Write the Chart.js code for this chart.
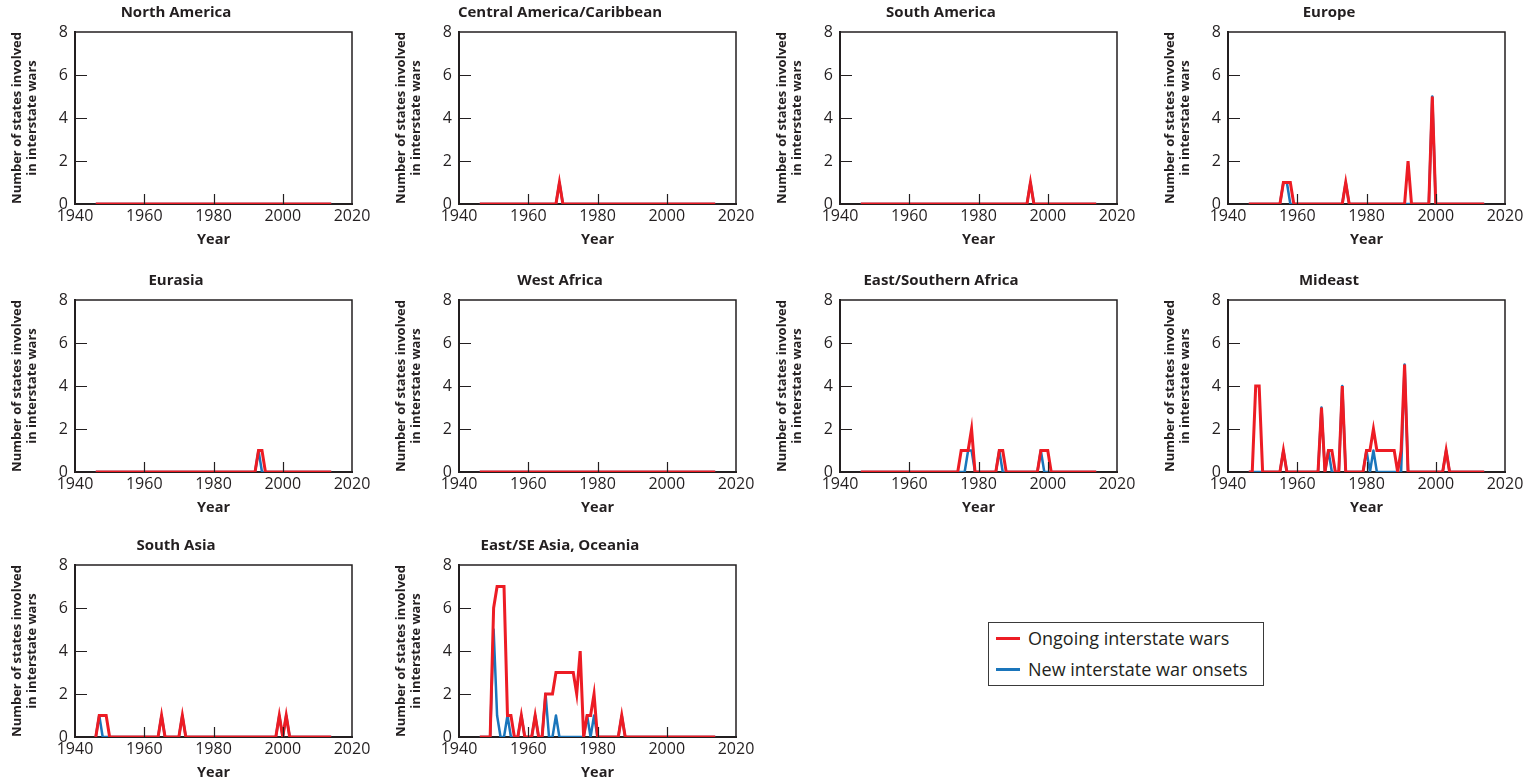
<!DOCTYPE html>
<html>
<head>
<meta charset="utf-8">
<script src="https://cdn.jsdelivr.net/npm/chart.js@4.4.1/dist/chart.umd.min.js"></script>
<style>
  html, body { margin: 0; padding: 0; background: #fff; overflow: hidden; }
  body { width: 1528px; height: 782px; position: relative; font-family: 'Open Sans', sans-serif; }
  .panel { position: absolute; }
  .legend-box {
    position: absolute; left: 988px; top: 622px; width: 274px; height: 62px;
    border: 1px solid #3a3a3a; background: #fff;
  }
  .legend-row { position: absolute; left: 0; height: 20px; display: flex; align-items: center; }
  .legend-row .swatch { display: inline-block; width: 24px; height: 3px; margin-left: 7px; margin-right: 8px; }
  .legend-row span.txt { font-size: 18px; color: #231f20; white-space: nowrap; }
</style>
</head>
<body>
<div id="charts"></div>
<div class="legend-box">
  <div class="legend-row" style="top:5px"><span class="swatch" style="background:#ed1c24"></span><span class="txt">Ongoing interstate wars</span></div>
  <div class="legend-row" style="top:36px"><span class="swatch" style="background:#1a75bb"></span><span class="txt">New interstate war onsets</span></div>
</div>
<script>
// years 1946 - 2014
const years = [
  1946, 1947, 1948, 1949,
  1950, 1951, 1952, 1953, 1954, 1955, 1956, 1957, 1958, 1959,
  1960, 1961, 1962, 1963, 1964, 1965, 1966, 1967, 1968, 1969,
  1970, 1971, 1972, 1973, 1974, 1975, 1976, 1977, 1978, 1979,
  1980, 1981, 1982, 1983, 1984, 1985, 1986, 1987, 1988, 1989,
  1990, 1991, 1992, 1993, 1994, 1995, 1996, 1997, 1998, 1999,
  2000, 2001, 2002, 2003, 2004, 2005, 2006, 2007, 2008, 2009,
  2010, 2011, 2012, 2013, 2014,
];

// rows: 46-49 | 50s | 60s | 70s | 80s | 90s | 00s | 10-14
const northAmericaOngoing = [0,0,0,0, 0,0,0,0,0,0,0,0,0,0, 0,0,0,0,0,0,0,0,0,0, 0,0,0,0,0,0,0,0,0,0, 0,0,0,0,0,0,0,0,0,0, 0,0,0,0,0,0,0,0,0,0, 0,0,0,0,0,0,0,0,0,0, 0,0,0,0,0];
const northAmericaOnsets  = [0,0,0,0, 0,0,0,0,0,0,0,0,0,0, 0,0,0,0,0,0,0,0,0,0, 0,0,0,0,0,0,0,0,0,0, 0,0,0,0,0,0,0,0,0,0, 0,0,0,0,0,0,0,0,0,0, 0,0,0,0,0,0,0,0,0,0, 0,0,0,0,0];

const centralAmOngoing = [0,0,0,0, 0,0,0,0,0,0,0,0,0,0, 0,0,0,0,0,0,0,0,0,1, 0,0,0,0,0,0,0,0,0,0, 0,0,0,0,0,0,0,0,0,0, 0,0,0,0,0,0,0,0,0,0, 0,0,0,0,0,0,0,0,0,0, 0,0,0,0,0];
const centralAmOnsets  = [0,0,0,0, 0,0,0,0,0,0,0,0,0,0, 0,0,0,0,0,0,0,0,0,1, 0,0,0,0,0,0,0,0,0,0, 0,0,0,0,0,0,0,0,0,0, 0,0,0,0,0,0,0,0,0,0, 0,0,0,0,0,0,0,0,0,0, 0,0,0,0,0];

const southAmOngoing = [0,0,0,0, 0,0,0,0,0,0,0,0,0,0, 0,0,0,0,0,0,0,0,0,0, 0,0,0,0,0,0,0,0,0,0, 0,0,0,0,0,0,0,0,0,0, 0,0,0,0,0,1,0,0,0,0, 0,0,0,0,0,0,0,0,0,0, 0,0,0,0,0];
const southAmOnsets  = [0,0,0,0, 0,0,0,0,0,0,0,0,0,0, 0,0,0,0,0,0,0,0,0,0, 0,0,0,0,0,0,0,0,0,0, 0,0,0,0,0,0,0,0,0,0, 0,0,0,0,0,1,0,0,0,0, 0,0,0,0,0,0,0,0,0,0, 0,0,0,0,0];

const europeOngoing = [0,0,0,0, 0,0,0,0,0,0,1,1,1,0, 0,0,0,0,0,0,0,0,0,0, 0,0,0,0,1,0,0,0,0,0, 0,0,0,0,0,0,0,0,0,0, 0,0,2,0,0,0,0,0,0,5, 0,0,0,0,0,0,0,0,0,0, 0,0,0,0,0];
const europeOnsets  = [0,0,0,0, 0,0,0,0,0,0,1,1,0,0, 0,0,0,0,0,0,0,0,0,0, 0,0,0,0,1,0,0,0,0,0, 0,0,0,0,0,0,0,0,0,0, 0,0,0,0,0,0,0,0,0,5, 0,0,0,0,0,0,0,0,0,0, 0,0,0,0,0];

const eurasiaOngoing = [0,0,0,0, 0,0,0,0,0,0,0,0,0,0, 0,0,0,0,0,0,0,0,0,0, 0,0,0,0,0,0,0,0,0,0, 0,0,0,0,0,0,0,0,0,0, 0,0,0,1,1,0,0,0,0,0, 0,0,0,0,0,0,0,0,0,0, 0,0,0,0,0];
const eurasiaOnsets  = [0,0,0,0, 0,0,0,0,0,0,0,0,0,0, 0,0,0,0,0,0,0,0,0,0, 0,0,0,0,0,0,0,0,0,0, 0,0,0,0,0,0,0,0,0,0, 0,0,0,1,0,0,0,0,0,0, 0,0,0,0,0,0,0,0,0,0, 0,0,0,0,0];

const westAfricaOngoing = [0,0,0,0, 0,0,0,0,0,0,0,0,0,0, 0,0,0,0,0,0,0,0,0,0, 0,0,0,0,0,0,0,0,0,0, 0,0,0,0,0,0,0,0,0,0, 0,0,0,0,0,0,0,0,0,0, 0,0,0,0,0,0,0,0,0,0, 0,0,0,0,0];
const westAfricaOnsets  = [0,0,0,0, 0,0,0,0,0,0,0,0,0,0, 0,0,0,0,0,0,0,0,0,0, 0,0,0,0,0,0,0,0,0,0, 0,0,0,0,0,0,0,0,0,0, 0,0,0,0,0,0,0,0,0,0, 0,0,0,0,0,0,0,0,0,0, 0,0,0,0,0];

const eastSouthAfricaOngoing = [0,0,0,0, 0,0,0,0,0,0,0,0,0,0, 0,0,0,0,0,0,0,0,0,0, 0,0,0,0,0,1,1,1,2,0, 0,0,0,0,0,0,1,1,0,0, 0,0,0,0,0,0,0,0,1,1, 1,0,0,0,0,0,0,0,0,0, 0,0,0,0,0];
const eastSouthAfricaOnsets  = [0,0,0,0, 0,0,0,0,0,0,0,0,0,0, 0,0,0,0,0,0,0,0,0,0, 0,0,0,0,0,0,0,1,1,0, 0,0,0,0,0,0,1,0,0,0, 0,0,0,0,0,0,0,0,1,0, 0,0,0,0,0,0,0,0,0,0, 0,0,0,0,0];

const mideastOngoing = [0,0,4,4, 0,0,0,0,0,0,1,0,0,0, 0,0,0,0,0,0,0,3,0,1, 1,0,0,4,0,0,0,0,0,0, 1,1,2,1,1,1,1,1,1,0, 1,5,0,0,0,0,0,0,0,0, 0,0,0,1,0,0,0,0,0,0, 0,0,0,0,0];
const mideastOnsets  = [0,0,0,0, 0,0,0,0,0,0,1,0,0,0, 0,0,0,0,0,0,0,3,0,1, 0,0,0,4,0,0,0,0,0,0, 1,0,1,0,0,0,0,0,0,0, 0,5,0,0,0,0,0,0,0,0, 0,0,0,1,0,0,0,0,0,0, 0,0,0,0,0];

const southAsiaOngoing = [0,1,1,1, 0,0,0,0,0,0,0,0,0,0, 0,0,0,0,0,1,0,0,0,0, 0,1,0,0,0,0,0,0,0,0, 0,0,0,0,0,0,0,0,0,0, 0,0,0,0,0,0,0,0,0,1, 0,1,0,0,0,0,0,0,0,0, 0,0,0,0,0];
const southAsiaOnsets  = [0,1,0,0, 0,0,0,0,0,0,0,0,0,0, 0,0,0,0,0,1,0,0,0,0, 0,1,0,0,0,0,0,0,0,0, 0,0,0,0,0,0,0,0,0,0, 0,0,0,0,0,0,0,0,0,1, 0,1,0,0,0,0,0,0,0,0, 0,0,0,0,0];

const eastAsiaOngoing = [0,0,0,0, 6,7,7,7,1,1,0,0,1,0, 0,0,1,0,0,2,2,2,3,3, 3,3,3,3,2,4,0,1,1,2, 0,0,0,0,0,0,0,1,0,0, 0,0,0,0,0,0,0,0,0,0, 0,0,0,0,0,0,0,0,0,0, 0,0,0,0,0];
const eastAsiaOnsets  = [0,0,0,0, 5,1,0,0,1,0,0,0,1,0, 0,0,1,0,0,2,0,0,1,0, 0,0,0,0,0,0,0,1,0,1, 0,0,0,0,0,0,0,1,0,0, 0,0,0,0,0,0,0,0,0,0, 0,0,0,0,0,0,0,0,0,0, 0,0,0,0,0];

const yTickValues = [0, 2, 4, 6, 8];
const xTickValues = [1940, 1960, 1980, 2000, 2020];

const panels = [
  { title: "North America", ongoing: northAmericaOngoing, onsets: northAmericaOnsets },
  { title: "Central America/Caribbean", ongoing: centralAmOngoing, onsets: centralAmOnsets },
  { title: "South America", ongoing: southAmOngoing, onsets: southAmOnsets },
  { title: "Europe", ongoing: europeOngoing, onsets: europeOnsets },
  { title: "Eurasia", ongoing: eurasiaOngoing, onsets: eurasiaOnsets },
  { title: "West Africa", ongoing: westAfricaOngoing, onsets: westAfricaOnsets },
  { title: "East/Southern Africa", ongoing: eastSouthAfricaOngoing, onsets: eastSouthAfricaOnsets },
  { title: "Mideast", ongoing: mideastOngoing, onsets: mideastOnsets },
  { title: "South Asia", ongoing: southAsiaOngoing, onsets: southAsiaOnsets },
  { title: "East/SE Asia, Oceania", ongoing: eastAsiaOngoing, onsets: eastAsiaOnsets },
];

const RED = "#ed1c24";
const BLUE = "#1a75bb";
const INK = "#231f20";
const colLeft = [0, 384, 765, 1153];
const rowTop = [0, 268, 533];
const W = 375, H = 249;

Chart.defaults.font.family = "'Open Sans', sans-serif";
Chart.defaults.color = INK;

// top/right frame plus the short inward tick marks
const frameTicks = {
  id: "frameTicks",
  afterDraw(chart) {
    const { ctx, chartArea: a, scales: { x, y } } = chart;
    ctx.save();
    ctx.strokeStyle = INK;
    ctx.lineWidth = 1.5;
    ctx.beginPath();
    ctx.moveTo(a.left, a.top);
    ctx.lineTo(a.right, a.top);
    ctx.lineTo(a.right, a.bottom);
    ctx.stroke();

    ctx.lineWidth = 1.2;
    ctx.beginPath();
    y.ticks.forEach((t) => {
      if (t.value === y.min || t.value === y.max) return;
      const py = Math.round(y.getPixelForValue(t.value)) + 0.5;
      ctx.moveTo(a.left, py);
      ctx.lineTo(a.left + 12, py);
    });
    x.ticks.forEach((t) => {
      if (t.value === x.min || t.value === x.max) return;
      const px = Math.round(x.getPixelForValue(t.value)) + 0.5;
      ctx.moveTo(px, a.bottom);
      ctx.lineTo(px, a.bottom - 10);
    });
    ctx.stroke();
    ctx.restore();
  },
};

const holder = document.getElementById("charts");

panels.forEach((p, i) => {
  const div = document.createElement("div");
  div.className = "panel";
  div.style.left = colLeft[i % 4] + "px";
  div.style.top = rowTop[Math.floor(i / 4)] + "px";
  div.style.width = W + "px";
  div.style.height = H + "px";
  const canvas = document.createElement("canvas");
  canvas.width = W;
  canvas.height = H;
  div.appendChild(canvas);
  holder.appendChild(div);

  new Chart(canvas.getContext("2d"), {
    type: "line",
    data: {
      datasets: [
        {
          label: "Ongoing interstate wars",
          data: years.map((yr, k) => ({ x: yr, y: p.ongoing[k] })),
          borderColor: RED,
          borderWidth: 3,
          pointRadius: 0,
          tension: 0,
          borderJoinStyle: "miter",
          order: 0,
        },
        {
          label: "New interstate war onsets",
          data: years.map((yr, k) => ({ x: yr, y: p.onsets[k] })),
          borderColor: BLUE,
          borderWidth: 2.5,
          pointRadius: 0,
          tension: 0,
          borderJoinStyle: "round",
          order: 1,
        },
      ],
    },
    options: {
      responsive: false,
      animation: false,
      events: [],
      layout: { padding: { left: 0, right: 23, top: 0, bottom: 0 } },
      plugins: {
        legend: { display: false },
        tooltip: { enabled: false },
        title: {
          display: true,
          text: p.title,
          color: INK,
          font: { size: 15, weight: "bold", lineHeight: 1.2 },
          padding: { top: 4, bottom: 10 },
        },
      },
      scales: {
        x: {
          type: "linear",
          min: 1940,
          max: 2020,
          afterBuildTicks: (s) => { s.ticks = xTickValues.map((v) => ({ value: v })); },
          ticks: { font: { size: 16 }, color: INK, padding: 3, maxRotation: 0, autoSkip: false, callback: (v) => String(v) },
          grid: { display: false, drawTicks: false },
          border: { display: true, color: INK, width: 2 },
          title: {
            display: true,
            text: "Year",
            color: INK,
            font: { size: 14.5, weight: "bold", lineHeight: 1.2 },
            padding: { top: 0, bottom: 0 },
          },
          afterFit: (s) => { s.height = 45; },
        },
        y: {
          min: 0,
          max: 8,
          afterBuildTicks: (s) => { s.ticks = yTickValues.map((v) => ({ value: v })); },
          ticks: { font: { size: 16 }, color: INK, padding: 7, callback: (v) => String(v) },
          grid: { display: false, drawTicks: false },
          border: { display: true, color: INK, width: 2 },
          title: {
            display: true,
            text: ["Number of states involved", "in interstate wars"],
            color: INK,
            font: { size: 13, weight: "bold", lineHeight: 1.2 },
            padding: { top: 9, bottom: 0 },
          },
          afterFit: (s) => { s.width = 75; },
        },
      },
    },
    plugins: [frameTicks],
  });
});
</script>
</body>
</html>
